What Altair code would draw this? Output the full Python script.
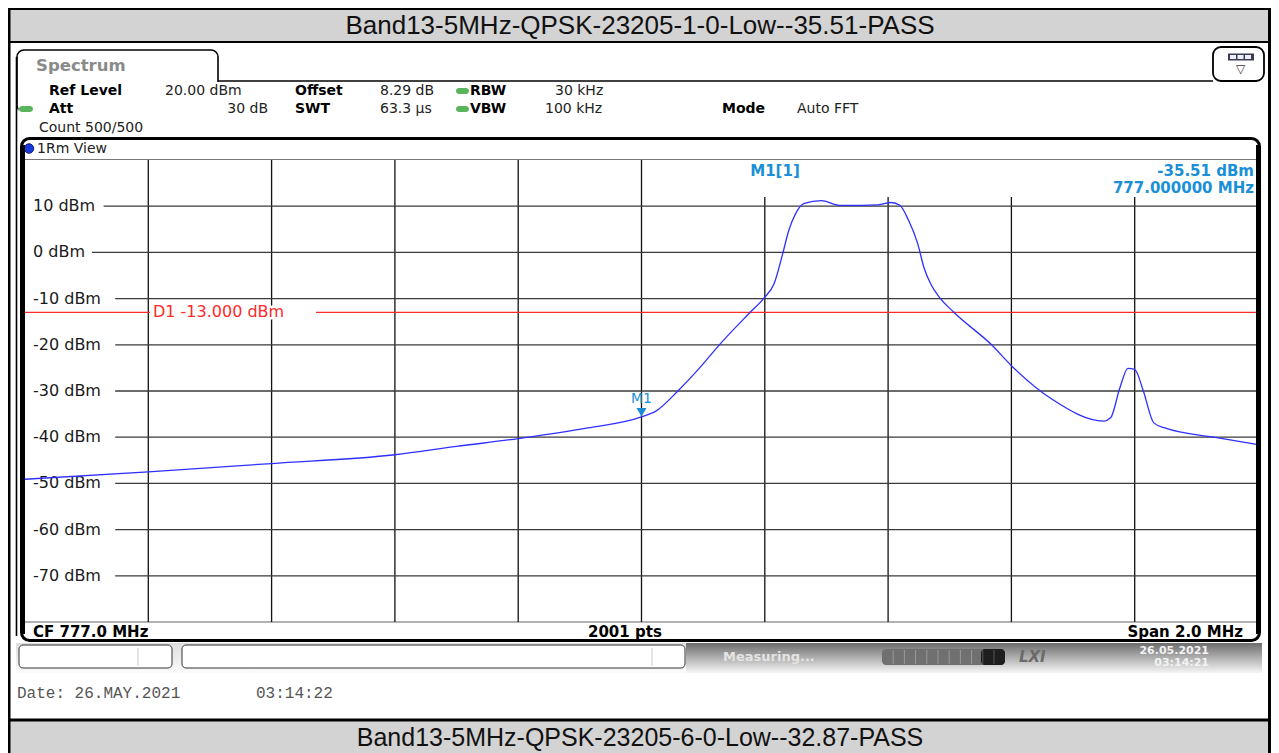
import altair as alt
import pandas as pd

# ---------------- data ----------------
freq_mhz = [776.000, 776.200, 776.400, 776.600, 776.700, 776.800, 776.913, 777.000,
            777.024, 777.059, 777.095, 777.127, 777.176, 777.200, 777.215, 777.229,
            777.239, 777.250, 777.264, 777.292, 777.320, 777.356, 777.384, 777.405,
            777.419, 777.433, 777.448, 777.458, 777.469, 777.483, 777.507, 777.567,
            777.603, 777.666, 777.750, 777.761, 777.776, 777.789, 777.800, 777.814,
            777.831, 777.849, 777.933, 778.000]
level_dbm = [-49.1, -47.5, -45.7, -43.8, -42.0, -40.3, -38.0, -35.6,
             -34.3, -30.0, -24.9, -19.9, -13.0, -9.7, -6.8, -0.3,
             4.8, 8.4, 10.6, 11.2, 10.2, 10.2, 10.3, 10.8,
             10.2, 7.0, 1.9, -3.2, -6.8, -9.7, -13.0, -19.9,
             -24.9, -31.8, -36.5, -35.8, -29.3, -25.1, -25.3, -30.0,
             -36.9, -38.0, -40.1, -41.6]

grid_freq_mhz = [776.2, 776.4, 776.6, 776.8, 777.0, 777.2, 777.4, 777.6, 777.8]
grid_level_dbm = [10, 0, -10, -20, -30, -40, -50, -60, -70]
level_tick_labels = ["10 dBm", "0 dBm", "-10 dBm", "-20 dBm", "-30 dBm",
                     "-40 dBm", "-50 dBm", "-60 dBm", "-70 dBm"]
limit_dbm = [-13.0]
limit_label = ["D1  -13.000 dBm"]
marker_name = ["M1"]
marker_freq_mhz = [777.0]
marker_level_dbm = [-35.51]

title_top = "Band13-5MHz-QPSK-23205-1-0-Low--35.51-PASS"
title_bottom = "Band13-5MHz-QPSK-23205-6-0-Low--32.87-PASS"
info_row1 = [("Ref Level", True, 49), ("20.00 dBm", False, 165), ("Offset", True, 295),
             ("8.29 dB", False, 380), ("RBW", True, 470), ("30 kHz", False, 555)]
info_row2 = [("Att", True, 49), ("SWT", True, 295), ("63.3 µs", False, 380),
             ("VBW", True, 470), ("100 kHz", False, 545), ("Mode", True, 722),
             ("Auto FFT", False, 797)]
info_dots_x = 456
att_value = "30 dB"
count_text = "Count 500/500"
view_text = "1Rm View"
cf_text = "CF 777.0 MHz"
pts_text = "2001 pts"
span_text = "Span 2.0 MHz"
date_text = "Date: 26.MAY.2021"
time_text = "03:14:22"

# ---------------- layout ----------------
PX0, PY0 = 25, 160          # page position of the plot area
PW, PH = 1233, 462          # plot area size
SVG_W, SVG_H = 1263, 745
UI = "DejaVu Sans"
BLUE_TXT = "#1b8fd8"

ONE = pd.DataFrame({"k": [0]})


def lx(x):
    return x - PX0


def ly(y):
    return y - PY0


def box(x1, y1, x2, y2, **mk):
    return alt.Chart(ONE).mark_rect(**mk).encode(
        x=alt.value(lx(x1)), x2=alt.value(lx(x2)),
        y=alt.value(ly(y1)), y2=alt.value(ly(y2)))


def seg(x1, y1, x2, y2, **mk):
    return alt.Chart(ONE).mark_rule(**mk).encode(
        x=alt.value(lx(x1)), x2=alt.value(lx(x2)),
        y=alt.value(ly(y1)), y2=alt.value(ly(y2)))


def label(x, y, s, **mk):
    mk.setdefault("baseline", "middle")
    mk.setdefault("align", "left")
    mk.setdefault("font", UI)
    mk.setdefault("fontSize", 14)
    mk.setdefault("color", "#111")
    return alt.Chart(ONE).mark_text(text=s, **mk).encode(
        x=alt.value(lx(x)), y=alt.value(ly(y)))


xs = alt.Scale(domain=[776.0, 778.0], nice=False, zero=False)
ys = alt.Scale(domain=[-80.0, 20.0], nice=False, zero=False)

layers = []

# outer report frame and title bands
layers += [
    box(8, 8, 1271, 43, fill="#d3d3d3"),
    box(8, 8, 1271, 10, fill="#000"),
    box(8, 41, 1271, 43, fill="#000"),
    box(8, 719, 1271, 753, fill="#d3d3d3"),
    box(8, 718.5, 1271, 721.5, fill="#000"),
    box(8, 8, 10.5, 753, fill="#000"),
    box(1268, 8, 1271, 753, fill="#000"),
    label(640, 26, title_top, align="center", font="Liberation Sans", fontSize=26, color="#111"),
    label(640, 738, title_bottom, align="center", font="Liberation Sans", fontSize=25, color="#111"),
]

# spectrum tab and header
layers += [
    box(17, 50, 218, 112, fill="white", stroke="#000", strokeWidth=1.6, cornerRadius=7),
    box(18.5, 82, 224, 116, fill="white"),
    seg(218, 81, 1213, 81, color="#000", strokeWidth=1.6),
    seg(16.5, 57, 16.5, 636, color="#000", strokeWidth=1.6),
    box(1213, 47, 1264, 81, fill="white", stroke="#000", strokeWidth=1.8, cornerRadius=8),
    box(1228, 53.5, 1254, 60.5, fill="#3a3d52"),
    box(1230, 55, 1236, 59, fill="#eef"),
    box(1237.5, 55, 1243.5, 59, fill="#eef"),
    box(1245, 55, 1251, 59, fill="#eef"),
    label(1240.5, 68.5, "▽", align="center", fontSize=12, color="#333"),
    label(36, 66, "Spectrum", fontSize=16.5, fontWeight="bold", color="#8a8a8a"),
]
for txt, bold, x0 in info_row1:
    layers.append(label(x0, 91, txt, fontWeight="bold" if bold else "normal",
                        color="#000" if bold else "#222"))
for txt, bold, x0 in info_row2:
    layers.append(label(x0, 109, txt, fontWeight="bold" if bold else "normal",
                        color="#000" if bold else "#222"))
layers += [
    label(268, 109, att_value, align="right", color="#222"),
    label(39, 128, count_text, color="#222"),
    box(info_dots_x, 88, info_dots_x + 13, 94, fill="#58b55c", cornerRadius=3),
    box(info_dots_x, 106, info_dots_x + 13, 112, fill="#58b55c", cornerRadius=3),
    box(19, 106, 33, 112, fill="#58b55c", cornerRadius=3),
]

# measurement window
layers += [
    box(21.5, 138.5, 1259.5, 640.5, fillOpacity=0, stroke="#000", strokeWidth=3, cornerRadius=8),
    seg(23, 159.5, 1257, 159.5, color="#777", strokeWidth=1),
    seg(25, 622, 1257, 622, color="#666", strokeWidth=1.2),
    alt.Chart(ONE).mark_point(shape="circle", filled=True, size=90, color="#1838d8",
                              stroke="#0a1a80", strokeWidth=1, opacity=1).encode(
        x=alt.value(lx(29)), y=alt.value(ly(148.5))),
    label(37, 148.5, view_text, color="#222"),
]

# grid
gdf = pd.DataFrame({"f": grid_freq_mhz})
layers += [
    alt.Chart(gdf).transform_filter("datum.f < 777.1").mark_rule(color="#111", strokeWidth=1.3).encode(
        x=alt.X("f:Q", scale=xs, axis=None), y=alt.value(0), y2=alt.value(PH)),
    alt.Chart(gdf).transform_filter("datum.f > 777.1").mark_rule(color="#111", strokeWidth=1.3).encode(
        x=alt.X("f:Q", scale=xs, axis=None), y=alt.value(ly(197)), y2=alt.value(PH)),
]
ldf = pd.DataFrame({"lvl": grid_level_dbm, "label": level_tick_labels})
for lab in level_tick_labels:
    start = 33 + 11.6 * len(lab) + 1
    layers.append(
        alt.Chart(ldf).transform_filter(alt.datum.label == lab).mark_rule(
            color="#3a3a3a", strokeWidth=1.3).encode(
            x=alt.value(lx(start)), x2=alt.value(PW),
            y=alt.Y("lvl:Q", scale=ys, axis=None)))
layers.append(
    alt.Chart(ldf).mark_text(align="left", baseline="middle", font=UI, fontSize=16, color="#1a1a1a").encode(
        x=alt.value(lx(33)), y=alt.Y("lvl:Q", scale=ys, axis=None), text="label:N"))

# limit line D1
lim = pd.DataFrame({"lvl": limit_dbm, "label": limit_label})
RED = "#ff2a2a"
layers += [
    alt.Chart(lim).mark_rule(color="white", strokeWidth=14).encode(
        x=alt.value(lx(150)), x2=alt.value(lx(316)), y=alt.Y("lvl:Q", scale=ys, axis=None)),
    alt.Chart(lim).mark_rule(color=RED, strokeWidth=1.2).encode(
        x=alt.value(0), x2=alt.value(lx(150)), y=alt.Y("lvl:Q", scale=ys, axis=None)),
    alt.Chart(lim).mark_rule(color=RED, strokeWidth=1.2).encode(
        x=alt.value(lx(316)), x2=alt.value(PW), y=alt.Y("lvl:Q", scale=ys, axis=None)),
    alt.Chart(lim).mark_text(align="left", baseline="middle", font=UI, fontSize=16, color=RED).encode(
        x=alt.value(lx(153)), y=alt.Y("lvl:Q", scale=ys, axis=None), text="label:N"),
]

# trace
tdf = pd.DataFrame({"f": freq_mhz, "p": level_dbm})
layers.append(
    alt.Chart(tdf).mark_line(color="#2f2fff", strokeWidth=1.3, interpolate="monotone").encode(
        x=alt.X("f:Q", scale=xs, axis=None), y=alt.Y("p:Q", scale=ys, axis=None)))

# marker
mdf = pd.DataFrame({"name": marker_name, "f": marker_freq_mhz, "p": marker_level_dbm})
layers += [
    alt.Chart(mdf).mark_point(shape="M-1,-1.7L1,-1.7L0,0Z", filled=True, size=100,
                              color="#1a8ad4", opacity=1).encode(
        x=alt.X("f:Q", scale=xs, axis=None), y=alt.Y("p:Q", scale=ys, axis=None)),
    alt.Chart(mdf).mark_text(dy=-17, font=UI, fontSize=14, color=BLUE_TXT).encode(
        x=alt.X("f:Q", scale=xs, axis=None), y=alt.Y("p:Q", scale=ys, axis=None), text="name:N"),
    label(775, 171, f"{marker_name[0]}[1]", align="center", fontWeight="bold", fontSize=15, color=BLUE_TXT),
    label(1254, 171, f"{marker_level_dbm[0]:.2f} dBm", align="right", fontWeight="bold", fontSize=15, color=BLUE_TXT),
    label(1254, 188, f"{marker_freq_mhz[0]:.6f} MHz", align="right", fontWeight="bold", fontSize=15, color=BLUE_TXT),
]

# window borders on top
layers += [
    box(21, 145, 25, 634, fill="#000"),
    box(1256, 145, 1260, 634, fill="#000"),
    label(33, 632, cf_text, fontWeight="bold", fontSize=15, color="#000"),
    label(588, 632, pts_text, fontWeight="bold", fontSize=15, color="#000"),
    label(1243, 632, span_text, align="right", fontWeight="bold", fontSize=15, color="#000"),
]

# status bar
light = alt.LinearGradient(gradient="linear", x1=0, x2=0, y1=0, y2=1,
                           stops=[alt.GradientStop(color="#dedede", offset=0),
                                  alt.GradientStop(color="#fbfbfb", offset=1)])
dark = alt.LinearGradient(gradient="linear", x1=0, x2=0, y1=0, y2=1,
                          stops=[alt.GradientStop(color="#6c6c6c", offset=0),
                                 alt.GradientStop(color="#f6f6f6", offset=1)])
layers += [
    box(16, 643, 686, 673, fill=light),
    box(686, 643, 1262, 673, fill=dark),
    box(19, 645, 172, 668, fill="white", stroke="#333", strokeWidth=1, cornerRadius=4),
    seg(138, 648, 138, 666, color="#ccc", strokeWidth=1),
    box(182, 645, 685, 668, fill="white", stroke="#333", strokeWidth=1, cornerRadius=4),
    seg(652, 648, 652, 666, color="#ccc", strokeWidth=1),
    label(723, 657, "Measuring...", fontWeight="bold", fontSize=13, color="#e4e4e4"),
    box(882, 649, 1005, 665, fill="#707070", cornerRadius=4),
    box(981, 649, 1005, 665, fill="#1e1e1e", cornerRadius=4),
]
for i in range(1, 11):
    layers.append(seg(882 + 11.2 * i, 650, 882 + 11.2 * i, 664,
                      color="#9a9a9a" if i < 9 else "#555", strokeWidth=1))
layers += [
    label(1019, 657, "LXI", fontWeight="bold", fontStyle="italic", fontSize=15, color="#6a6a6a"),
    label(1209, 651, "26.05.2021", align="right", fontWeight="bold", fontSize=11, color="#f2f2f2"),
    label(1209, 663, "03:14:21", align="right", fontWeight="bold", fontSize=11, color="#f2f2f2"),
    label(17, 693, date_text, font="Liberation Mono", fontSize=16, color="#555"),
    label(256, 693, time_text, font="Liberation Mono", fontSize=16, color="#555"),
]

chart = alt.layer(*layers).properties(
    width=PW, height=PH,
    padding={"left": PX0 - 8, "top": PY0 - 8,
             "right": SVG_W - (PX0 - 8) - PW, "bottom": SVG_H - (PY0 - 8) - PH},
    autosize=alt.AutoSizeParams(type="none"),
    background="white",
).configure_view(stroke=None)

chart.save("out.html", embed_options={"renderer": "svg", "actions": False})
